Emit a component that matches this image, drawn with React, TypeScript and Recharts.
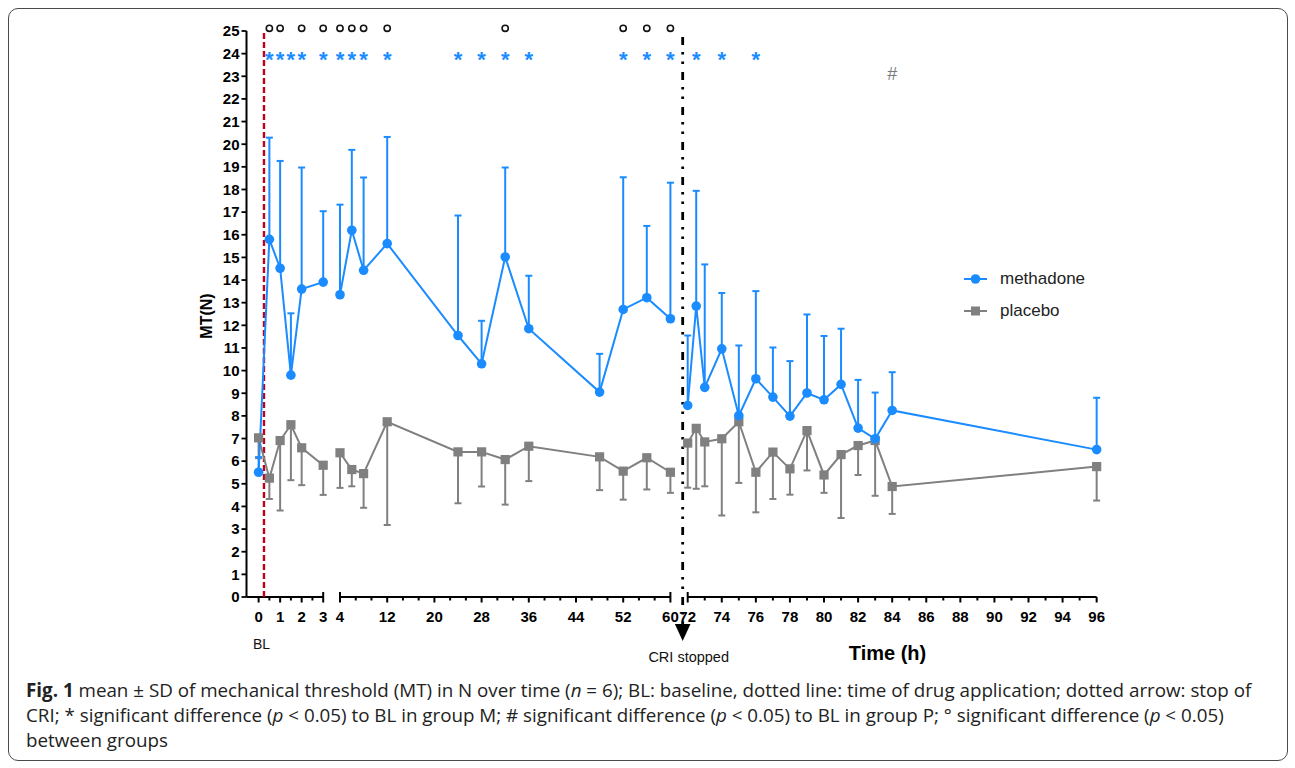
import React from 'react';
import {
  ComposedChart,
  Line,
  XAxis,
  YAxis,
  ErrorBar,
  ReferenceLine,
  ReferenceDot,
  Legend,
} from 'recharts';

// ---------------- data (hours, mean, SD) ----------------
const HOURS = [0, 0.5, 1, 1.5, 2, 3, 4, 6, 8, 12, 24, 28, 32, 36, 48, 52, 56, 60, 72, 72.5, 73, 74, 75, 76, 77, 78, 79, 80, 81, 82, 83, 84, 96];
const METHADONE_MEAN = [5.51, 15.8, 14.52, 9.8, 13.6, 13.91, 13.35, 16.2, 14.43, 15.61, 11.55, 10.3, 15.02, 11.85, 9.05, 12.7, 13.22, 12.29, 8.46, 12.85, 9.26, 10.96, 8.01, 9.64, 8.83, 7.99, 9.01, 8.71, 9.39, 7.46, 6.99, 8.24, 6.51];
const METHADONE_SD = [0.67, 4.49, 4.74, 2.73, 5.37, 3.13, 3.98, 3.55, 4.1, 4.71, 5.3, 1.9, 3.95, 2.34, 1.69, 5.84, 3.17, 6.01, 3.09, 5.09, 5.43, 2.47, 3.1, 3.87, 2.19, 2.43, 3.47, 2.82, 2.46, 2.13, 2.04, 1.69, 2.29];
const PLACEBO_MEAN = [7.03, 5.25, 6.91, 7.61, 6.59, 5.82, 6.37, 5.63, 5.45, 7.74, 6.41, 6.41, 6.07, 6.66, 6.19, 5.56, 6.15, 5.51, 6.8, 7.45, 6.85, 6.99, 7.74, 5.51, 6.4, 5.66, 7.35, 5.39, 6.29, 6.69, 6.91, 4.88, 5.76];
const PLACEBO_SD = [0.9, 0.92, 3.09, 2.45, 1.65, 1.31, 1.55, 0.74, 1.51, 4.56, 2.27, 1.53, 1.99, 1.54, 1.47, 1.26, 1.4, 0.91, 1.97, 2.67, 1.96, 3.39, 2.7, 1.77, 2.07, 1.14, 1.76, 0.79, 2.8, 1.3, 2.44, 1.21, 1.5];

// significance markers (hours)
const SIG_BL_M_HOURS = [0.5, 1, 1.5, 2, 3, 4, 6, 8, 12, 24, 28, 32, 36, 52, 56, 60, 72.5, 74, 76];
const SIG_GROUPS_HOURS = [0.5, 1, 2, 3, 4, 6, 8, 12, 32, 52, 56, 60];
const SIG_BL_P_HOURS = [84];
const SIG_M_LEVEL = 24.0;
const SIG_G_LEVEL = 25.12;
const SIG_P_LEVEL = 23.13;

const Y_TICKS = Array.from({ length: 26 }, (_, i) => i);
const SEG1_LABELS = [0, 1, 2, 3];
const SEG1_MINOR = [0.5, 1.5, 2.5];
const SEG2_LABELS = [4, 12, 20, 28, 36, 44, 52, 60];
const SEG3_LABELS = [72, 74, 76, 78, 80, 82, 84, 86, 88, 90, 92, 94, 96];

const SERIES_NAMES = ['methadone', 'placebo'];
const BASELINE_DRUG_HOUR = 0.25;

// ---------------- broken axis mapping ----------------
const AXIS_SEGMENTS = [
  { from: 0, to: 3, offset: 12.1, scale: 21.53 },
  { from: 4, to: 60, offset: 93.5, scale: 5.9 },
  { from: 72, to: 96, offset: 441.2, scale: 17.04 },
];
const X_MAX = 850.2;

function toU(h: number): number {
  const s = AXIS_SEGMENTS.find((seg) => h >= seg.from - 1e-9 && h <= seg.to + 1e-9) || AXIS_SEGMENTS[AXIS_SEGMENTS.length - 1];
  return s.offset + (h - s.from) * s.scale;
}

const CRI_U = toU(60) + (toU(72) - toU(60)) * 0.71;

const BLUE = '#1a8cff';
const GREY = '#808080';
const FONT = '"Liberation Sans", Arial, sans-serif';

type TickSpec = { u: number; label: string; kind: 'major' | 'minor' | 'cap'; bl?: boolean };

const TICK_SPECS: TickSpec[] = [];
SEG1_LABELS.forEach((h) => TICK_SPECS.push({ u: toU(h), label: String(h), kind: h === 3 ? 'cap' : 'major', bl: h === 0 }));
SEG1_MINOR.forEach((h) => TICK_SPECS.push({ u: toU(h), label: '', kind: 'minor' }));
SEG2_LABELS.forEach((h, i) => {
  TICK_SPECS.push({ u: toU(h), label: String(h), kind: h === 4 || h === 60 ? 'cap' : 'major' });
  if (i < SEG2_LABELS.length - 1) {
    const step = (SEG2_LABELS[i + 1] - h) / 3;
    TICK_SPECS.push({ u: toU(h + step), label: '', kind: 'minor' });
    TICK_SPECS.push({ u: toU(h + 2 * step), label: '', kind: 'minor' });
  }
});
SEG3_LABELS.forEach((h, i) => {
  TICK_SPECS.push({ u: toU(h), label: String(h), kind: h === 72 ? 'cap' : 'major' });
  if (i < SEG3_LABELS.length - 1) TICK_SPECS.push({ u: toU(h + 1), label: '', kind: 'minor' });
});
TICK_SPECS.sort((a, b) => a.u - b.u);
const X_TICKS = TICK_SPECS.map((t) => t.u);

// ---------------- chart rows ----------------
type Row = { u: number; m: number | null; p: number | null; mErr?: number[]; pErr?: number[] };
const ROWS: Row[] = HOURS.map((h, i) => ({
  u: toU(h),
  m: METHADONE_MEAN[i],
  mErr: [0, METHADONE_SD[i]],
  p: PLACEBO_MEAN[i],
  pErr: [PLACEBO_SD[i], 0],
}));
ROWS.push({ u: (toU(3) + toU(4)) / 2, m: null, p: null });
ROWS.push({ u: (toU(60) + toU(72)) / 2, m: null, p: null });
ROWS.sort((a, b) => a.u - b.u);

// ---------------- custom renderers ----------------
const XTick = (props: any) => {
  const { x, y, payload } = props;
  const spec = TICK_SPECS.find((t) => Math.abs(t.u - payload.value) < 1e-6);
  if (!spec) return <g />;
  return (
    <g>
      {spec.kind === 'cap' ? (
        <line x1={x} x2={x} y1={y - 5} y2={y + 5.5} stroke="#000" strokeWidth={2} />
      ) : (
        <line x1={x} x2={x} y1={y} y2={y + (spec.kind === 'major' ? 5.5 : 3.5)} stroke="#000" strokeWidth={2} />
      )}
      {spec.label && (
        <text x={x} y={y + 25} textAnchor="middle" fontSize={15} fontWeight={700} fill="#000" fontFamily={FONT}>
          {spec.label}
        </text>
      )}
      {spec.bl && (
        <text x={x + 3} y={y + 52} textAnchor="middle" fontSize={14} fill="#111" fontFamily={FONT}>
          BL
        </text>
      )}
    </g>
  );
};

const SquareDot = (props: any) => {
  const { cx, cy, index } = props;
  if (cx == null || cy == null || isNaN(cx) || isNaN(cy)) return <g key={`sq-${index}`} />;
  return <rect key={`sq-${index}`} x={cx - 4.6} y={cy - 4.6} width={9.2} height={9.2} fill={GREY} />;
};

const renderLegend = () => (
  <div style={{ fontFamily: FONT, fontSize: 17, color: '#222' }}>
    {SERIES_NAMES.map((name, i) => (
      <div key={name} style={{ display: 'flex', alignItems: 'center', height: 32 }}>
        <svg width={26} height={14} style={{ display: 'block' }}>
          <line x1={1} x2={24} y1={7} y2={7} stroke={i === 0 ? BLUE : GREY} strokeWidth={2} />
          {i === 0 ? (
            <circle cx={12.5} cy={7} r={4.8} fill={BLUE} />
          ) : (
            <rect x={8} y={2.5} width={9} height={9} fill={GREY} />
          )}
        </svg>
        <span style={{ marginLeft: 11 }}>{name}</span>
      </div>
    ))}
  </div>
);

export default function App() {
  return (
    <div style={{ position: 'absolute', left: 0, top: 0, width: 1295, height: 768, background: '#fff', overflow: 'hidden' }}>
      <div
        style={{
          position: 'absolute',
          left: 8,
          top: 8,
          width: 1280,
          height: 753,
          border: '1.5px solid #4a4a4a',
          borderRadius: 10,
          boxSizing: 'border-box',
        }}
      />
      <div style={{ position: 'absolute', left: 0, top: 0 }}>
        <ComposedChart
          width={1295}
          height={768}
          data={ROWS}
          margin={{ top: 31, left: 186.5, right: 1295 - 1096.7, bottom: 141 }}
          style={{ fontFamily: FONT }}
        >
          <XAxis
            dataKey="u"
            type="number"
            domain={[0, X_MAX]}
            ticks={X_TICKS}
            interval={0}
            axisLine={false}
            tickLine={false}
            tickSize={0}
            tickMargin={0}
            height={30}
            tick={<XTick />}
            label={(p: any) => {
              const vb = p.viewBox || {};
              return (
                <text
                  x={vb.x + vb.width * 0.754}
                  y={vb.y + 63}
                  textAnchor="middle"
                  fontSize={20}
                  fontWeight={700}
                  fill="#000"
                  fontFamily={FONT}
                >
                  Time (h)
                </text>
              );
            }}
          />
          <YAxis
            type="number"
            domain={[0, 25]}
            ticks={Y_TICKS}
            interval={0}
            width={60}
            tickSize={5}
            tickMargin={2}
            axisLine={{ stroke: '#000', strokeWidth: 2 }}
            tickLine={{ stroke: '#000', strokeWidth: 1.8 }}
            tick={{ fontSize: 15, fontWeight: 700, fill: '#000', fontFamily: FONT }}
            label={(p: any) => {
              const vb = p.viewBox || {};
              const cx = vb.x + 19.5;
              const cy = vb.y + vb.height / 2 + 2;
              return (
                <text
                  x={cx}
                  y={cy}
                  transform={`rotate(-90, ${cx}, ${cy})`}
                  textAnchor="middle"
                  dominantBaseline="central"
                  fontSize={16}
                  fontWeight={700}
                  fill="#000"
                  fontFamily={FONT}
                >
                  MT(N)
                </text>
              );
            }}
          />

          {/* broken x-axis line segments */}
          {AXIS_SEGMENTS.map((s, i) => (
            <ReferenceLine
              key={`seg-${i}`}
              segment={[
                { x: i === 0 ? 0 : toU(s.from), y: 0 },
                { x: toU(s.to), y: 0 },
              ]}
              stroke="#000"
              strokeWidth={2}
              ifOverflow="visible"
            />
          ))}

          {/* time of drug application */}
          <ReferenceLine x={toU(BASELINE_DRUG_HOUR)} stroke="#c0001a" strokeWidth={2.4} strokeDasharray="6 3" />

          {/* stop of CRI */}
          <ReferenceLine
            segment={[
              { x: CRI_U, y: 24.73 },
              { x: CRI_U, y: -1.2 },
            ]}
            stroke="#000"
            strokeWidth={2.8}
            strokeDasharray="8 7 2.5 7 2.5 8"
            ifOverflow="visible"
          />
          <ReferenceDot
            x={CRI_U}
            y={0}
            ifOverflow="visible"
            shape={(p: any) => (
              <g>
                <path d={`M${p.cx - 7.8},${p.cy + 27} L${p.cx + 7.8},${p.cy + 27} L${p.cx},${p.cy + 44} Z`} fill="#000" />
                <text x={p.cx + 6} y={p.cy + 65} textAnchor="middle" fontSize={14.5} fill="#111" fontFamily={FONT}>
                  CRI stopped
                </text>
              </g>
            )}
          />

          <Line
            dataKey="p"
            name={SERIES_NAMES[1]}
            stroke={GREY}
            strokeWidth={2}
            type="linear"
            connectNulls={false}
            isAnimationActive={false}
            dot={(p: any) => <SquareDot {...p} />}
            activeDot={false}
          >
            <ErrorBar dataKey="pErr" direction="y" width={3.5} stroke={GREY} strokeWidth={2} isAnimationActive={false} />
          </Line>
          <Line
            dataKey="m"
            name={SERIES_NAMES[0]}
            stroke={BLUE}
            strokeWidth={2}
            type="linear"
            connectNulls={false}
            isAnimationActive={false}
            dot={{ r: 4.8, fill: BLUE, stroke: BLUE, strokeWidth: 0 }}
            activeDot={false}
          >
            <ErrorBar dataKey="mErr" direction="y" width={3.5} stroke={BLUE} strokeWidth={2} isAnimationActive={false} />
          </Line>

          {/* significance markers */}
          {SIG_GROUPS_HOURS.map((h) => (
            <ReferenceDot
              key={`g-${h}`}
              x={toU(h)}
              y={SIG_G_LEVEL}
              ifOverflow="visible"
              shape={(p: any) => <circle cx={p.cx} cy={p.cy} r={3.1} fill="none" stroke="#111" strokeWidth={1.6} />}
            />
          ))}
          {SIG_BL_M_HOURS.map((h) => (
            <ReferenceDot
              key={`m-${h}`}
              x={toU(h)}
              y={SIG_M_LEVEL}
              ifOverflow="visible"
              shape={(p: any) => (
                <text x={p.cx} y={p.cy + 13} textAnchor="middle" fontSize={22} fontWeight={700} fill={BLUE} fontFamily={FONT}>
                  *
                </text>
              )}
            />
          ))}
          {SIG_BL_P_HOURS.map((h) => (
            <ReferenceDot
              key={`p-${h}`}
              x={toU(h)}
              y={SIG_P_LEVEL}
              ifOverflow="visible"
              shape={(p: any) => (
                <text x={p.cx} y={p.cy + 6.5} textAnchor="middle" fontSize={18} fill="#7a7a7a" fontFamily={FONT}>
                  #
                </text>
              )}
            />
          ))}

          <Legend
            layout="horizontal"
            verticalAlign="middle"
            align="center"
            content={renderLegend}
            wrapperStyle={{ position: 'absolute', left: 963, top: 263, width: 160, height: 64 }}
          />
        </ComposedChart>
      </div>
      <div
        style={{
          position: 'absolute',
          left: 26,
          top: 678,
          fontFamily: '"Open Sans", "Noto Sans", sans-serif',
          fontSize: 18.8,
          lineHeight: '25px',
          color: '#222',
          whiteSpace: 'nowrap',
        }}
      >
        <div>
          <b>Fig. 1</b> mean ± SD of mechanical threshold (MT) in N over time (<i>n</i> = 6); BL: baseline, dotted line: time of drug application; dotted arrow: stop of
        </div>
        <div>
          CRI; * significant difference (<i>p</i> &lt; 0.05) to BL in group M; # significant difference (<i>p</i> &lt; 0.05) to BL in group P; ° significant difference (<i>p</i> &lt; 0.05)
        </div>
        <div>between groups</div>
      </div>
    </div>
  );
}
